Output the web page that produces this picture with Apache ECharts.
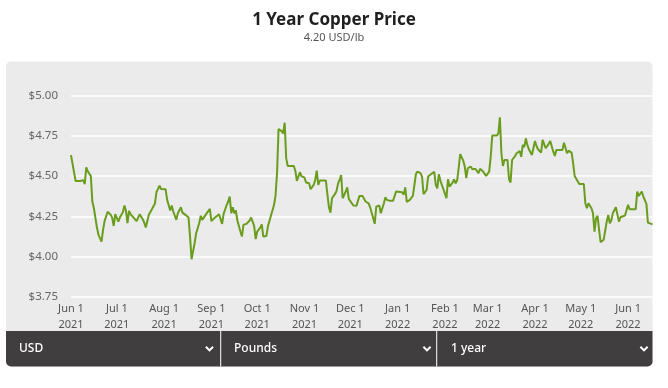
<!DOCTYPE html>
<html>
<head>
<meta charset="utf-8">
<script src="https://cdn.jsdelivr.net/npm/echarts@6/dist/echarts.min.js"></script>
<style>
html,body{margin:0;padding:0;background:#fff;}
#chart{width:668px;height:388px;}
</style>
</head>
<body>
<div id="chart"></div>
<script>
const titleText = '1 Year Copper Price';
const subtitleText = '4.20 USD/lb';
const monthNames = ['Jan','Feb','Mar','Apr','May','Jun','Jul','Aug','Sep','Oct','Nov','Dec'];
const yTicks = [3.75, 4.00, 4.25, 4.50, 4.75, 5.00];
const dropdownLabels = ['USD', 'Pounds', '1 year'];

const dates = [
'2021-06-01','2021-06-04','2021-06-07','2021-06-08','2021-06-09','2021-06-10','2021-06-11','2021-06-12','2021-06-14','2021-06-15',
'2021-06-16','2021-06-18','2021-06-19','2021-06-21','2021-06-22','2021-06-23','2021-06-25','2021-06-27','2021-06-28','2021-06-29',
'2021-06-30','2021-07-02','2021-07-03','2021-07-05','2021-07-06','2021-07-07','2021-07-08','2021-07-09','2021-07-10','2021-07-12',
'2021-07-14','2021-07-15','2021-07-16','2021-07-18','2021-07-19','2021-07-20','2021-07-22','2021-07-24','2021-07-26','2021-07-27',
'2021-07-28','2021-07-29','2021-07-30','2021-08-02','2021-08-03','2021-08-05','2021-08-06','2021-08-07','2021-08-09','2021-08-10',
'2021-08-12','2021-08-13','2021-08-15','2021-08-17','2021-08-18','2021-08-19','2021-08-21','2021-08-22','2021-08-24','2021-08-25',
'2021-08-26','2021-08-29','2021-08-31','2021-09-01','2021-09-03','2021-09-06','2021-09-08','2021-09-09','2021-09-11','2021-09-12',
'2021-09-13','2021-09-14','2021-09-15','2021-09-16','2021-09-17','2021-09-18','2021-09-20','2021-09-21','2021-09-22','2021-09-24',
'2021-09-26','2021-09-27','2021-09-29','2021-09-30','2021-10-01','2021-10-03','2021-10-04','2021-10-05','2021-10-07','2021-10-08',
'2021-10-10','2021-10-12','2021-10-13','2021-10-14','2021-10-15','2021-10-17','2021-10-18','2021-10-19','2021-10-20','2021-10-21',
'2021-10-25','2021-10-26','2021-10-27','2021-10-29','2021-10-30','2021-11-01','2021-11-02','2021-11-04','2021-11-05','2021-11-07',
'2021-11-08','2021-11-09','2021-11-10','2021-11-11','2021-11-15','2021-11-16','2021-11-17','2021-11-18','2021-11-19','2021-11-21',
'2021-11-22','2021-11-23','2021-11-24','2021-11-25','2021-11-26','2021-11-28','2021-11-29','2021-11-30','2021-12-03','2021-12-05',
'2021-12-06','2021-12-07','2021-12-09','2021-12-11','2021-12-13','2021-12-14','2021-12-15','2021-12-17','2021-12-18','2021-12-20',
'2021-12-21','2021-12-23','2021-12-24','2021-12-25','2021-12-27','2021-12-29','2021-12-31','2022-01-01','2022-01-04','2022-01-05',
'2022-01-06','2022-01-07','2022-01-09','2022-01-11','2022-01-12','2022-01-13','2022-01-14','2022-01-16','2022-01-17','2022-01-18',
'2022-01-20','2022-01-21','2022-01-23','2022-01-25','2022-01-26','2022-01-27','2022-01-28','2022-01-29','2022-01-31','2022-02-02',
'2022-02-03','2022-02-04','2022-02-06','2022-02-07','2022-02-08','2022-02-09','2022-02-10','2022-02-11','2022-02-13','2022-02-14',
'2022-02-15','2022-02-16','2022-02-18','2022-02-19','2022-02-21','2022-02-23','2022-02-24','2022-02-26','2022-02-28','2022-03-02',
'2022-03-03','2022-03-04','2022-03-07','2022-03-08','2022-03-09','2022-03-10','2022-03-11','2022-03-12','2022-03-14','2022-03-15',
'2022-03-16','2022-03-17','2022-03-19','2022-03-20','2022-03-22','2022-03-23','2022-03-24','2022-03-25','2022-03-26','2022-03-27',
'2022-03-28','2022-03-30','2022-04-01','2022-04-02','2022-04-03','2022-04-05','2022-04-06','2022-04-08','2022-04-09','2022-04-10',
'2022-04-11','2022-04-13','2022-04-14','2022-04-15','2022-04-19','2022-04-20','2022-04-22','2022-04-23','2022-04-25','2022-04-26',
'2022-04-27','2022-04-28','2022-04-30','2022-05-03','2022-05-04','2022-05-05','2022-05-06','2022-05-08','2022-05-09','2022-05-10',
'2022-05-11','2022-05-12','2022-05-13','2022-05-14','2022-05-16','2022-05-17','2022-05-18','2022-05-19','2022-05-20','2022-05-21',
'2022-05-22','2022-05-24','2022-05-25','2022-05-26','2022-05-27','2022-05-30','2022-06-01','2022-06-02','2022-06-06','2022-06-07',
'2022-06-08','2022-06-10','2022-06-11','2022-06-13','2022-06-14','2022-06-15','2022-06-17'
];

const prices = [
4.63,4.47,4.47,4.48,4.475,4.45,4.555,4.53,4.50,4.34,
4.30,4.18,4.135,4.093,4.166,4.22,4.278,4.26,4.24,4.19,
4.263,4.217,4.242,4.276,4.317,4.284,4.207,4.284,4.263,4.242,
4.22,4.228,4.263,4.232,4.21,4.18,4.26,4.294,4.33,4.40,
4.404,4.44,4.42,4.418,4.352,4.286,4.317,4.28,4.228,4.269,
4.306,4.273,4.259,4.242,4.124,3.983,4.083,4.145,4.207,4.253,
4.228,4.27,4.296,4.22,4.24,4.263,4.203,4.265,4.32,4.342,
4.373,4.269,4.306,4.269,4.286,4.224,4.155,4.124,4.197,4.203,
4.224,4.242,4.19,4.108,4.155,4.18,4.20,4.124,4.128,4.186,
4.253,4.32,4.377,4.518,4.793,4.78,4.766,4.832,4.61,4.563,
4.563,4.532,4.47,4.524,4.50,4.49,4.46,4.455,4.418,4.445,
4.476,4.534,4.445,4.472,4.472,4.387,4.306,4.273,4.362,4.389,
4.408,4.455,4.476,4.507,4.362,4.404,4.43,4.358,4.317,4.315,
4.319,4.377,4.377,4.342,4.331,4.306,4.30,4.203,4.31,4.317,
4.269,4.331,4.368,4.352,4.346,4.346,4.404,4.41,4.40,4.385,
4.43,4.34,4.352,4.377,4.383,4.513,4.528,4.518,4.497,4.387,
4.414,4.497,4.513,4.526,4.445,4.424,4.511,4.472,4.418,4.362,
4.48,4.435,4.46,4.48,4.455,4.472,4.549,4.636,4.596,4.559,
4.487,4.549,4.559,4.542,4.545,4.518,4.545,4.528,4.501,4.528,
4.621,4.752,4.752,4.766,4.865,4.642,4.563,4.60,4.60,4.48,
4.46,4.60,4.625,4.642,4.656,4.62,4.694,4.68,4.735,4.694,
4.667,4.631,4.718,4.687,4.667,4.646,4.725,4.673,4.68,4.70,
4.718,4.652,4.625,4.663,4.663,4.708,4.642,4.658,4.646,4.58,
4.50,4.497,4.451,4.451,4.331,4.30,4.331,4.30,4.269,4.155,
4.238,4.253,4.166,4.089,4.104,4.114,4.217,4.259,4.207,4.224,
4.269,4.306,4.30,4.217,4.244,4.255,4.321,4.294,4.294,4.404,
4.377,4.404,4.373,4.327,4.211,4.203,4.20
];

const xMin = '2021-06-01';
const xMax = '2022-06-17';

const seriesData = dates.map((d, i) => [d, prices[i]]);
const FONT = '"Noto Sans", "Open Sans", sans-serif';

const chart = echarts.init(document.getElementById('chart'), null, {renderer: 'canvas'});

function chevron(cx) {
  return {
    type: 'polyline', z: 20,
    shape: {points: [[cx - 3.6, 346.8], [cx, 350.4], [cx + 3.6, 346.8]]},
    style: {stroke: '#ffffff', lineWidth: 2, fill: null}
  };
}

const option = {
  animation: false,
  backgroundColor: '#ffffff',
  title: {
    text: titleText,
    subtext: subtitleText,
    left: 'center',
    top: 7,
    itemGap: 3,
    textStyle: {fontFamily: FONT, fontSize: 17, fontWeight: 'bold', color: '#1f1f1f'},
    subtextStyle: {fontFamily: FONT, fontSize: 11, color: '#555555'}
  },
  grid: {left: 71, right: 15.5, top: 95.7, bottom: 91.3, containLabel: false},
  xAxis: {
    type: 'time',
    min: xMin,
    max: xMax,
    minInterval: 28 * 86400000,
    maxInterval: 31 * 86400000,
    axisLine: {show: false},
    axisTick: {show: false},
    splitLine: {show: false},
    axisLabel: {
      color: '#555555',
      fontFamily: FONT,
      fontSize: 11,
      lineHeight: 16,
      margin: 4,
      hideOverlap: false,
      showMinLabel: true,
      formatter: function (v) {
        const d = new Date(v);
        return monthNames[d.getMonth()] + ' ' + d.getDate() + '\n' + d.getFullYear();
      }
    }
  },
  yAxis: {
    type: 'value',
    min: yTicks[0],
    max: yTicks[yTicks.length - 1],
    interval: 0.25,
    axisLine: {show: false},
    axisTick: {show: false},
    splitLine: {show: true, lineStyle: {color: '#ffffff', width: 1.5}},
    axisLabel: {
      color: '#666666',
      fontFamily: FONT,
      fontSize: 11.5,
      margin: 13,
      formatter: function (v) { return '$' + v.toFixed(2); }
    }
  },
  graphic: [
    {type: 'rect', z: -10, silent: true,
     shape: {x: 6, y: 61.5, width: 646.5, height: 305, r: 5},
     style: {fill: '#ebebeb'}},
    {type: 'rect', z: 15, silent: true,
     shape: {x: 6, y: 331, width: 646.5, height: 35.5, r: [0, 0, 5, 5]},
     style: {fill: '#403e3f'}},
    {type: 'rect', z: 16, silent: true,
     shape: {x: 220.2, y: 331, width: 1, height: 35.5}, style: {fill: '#ffffff'}},
    {type: 'rect', z: 16, silent: true,
     shape: {x: 436.2, y: 331, width: 1, height: 35.5}, style: {fill: '#ffffff'}},
    {type: 'text', z: 20, x: 19, y: 348.5,
     style: {text: dropdownLabels[0], fill: '#ffffff', font: '500 12px ' + FONT, verticalAlign: 'middle'}},
    {type: 'text', z: 20, x: 234, y: 348.5,
     style: {text: dropdownLabels[1], fill: '#ffffff', font: '500 12px ' + FONT, verticalAlign: 'middle'}},
    {type: 'text', z: 20, x: 451, y: 348.5,
     style: {text: dropdownLabels[2], fill: '#ffffff', font: '500 12px ' + FONT, verticalAlign: 'middle'}},
    chevron(209.5),
    chevron(427),
    chevron(644)
  ],
  series: [{
    type: 'line',
    data: seriesData,
    showSymbol: false,
    symbol: 'none',
    lineStyle: {color: '#6a9c1e', width: 2},
    z: 5
  }]
};

chart.setOption(option);
</script>
</body>
</html>
